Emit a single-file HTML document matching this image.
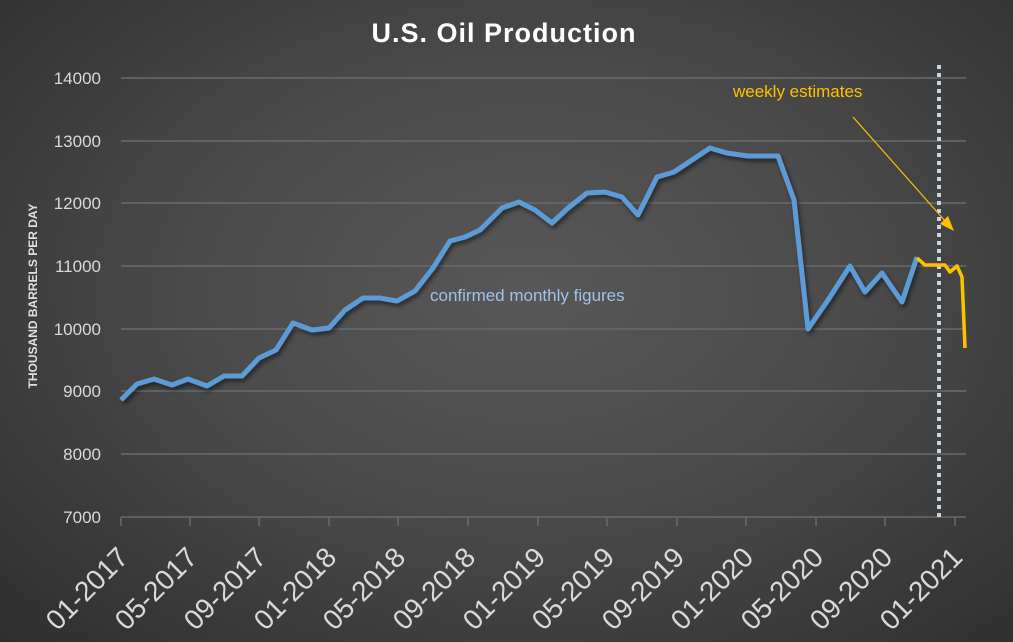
<!DOCTYPE html>
<html><head><meta charset="utf-8"><style>
html,body{margin:0;padding:0;}
body{width:1013px;height:642px;overflow:hidden;background:radial-gradient(ellipse at 52% 45%,#585858 0%,#4a4a4a 45%,#2e2e2e 100%);}
svg{position:absolute;left:0;top:0;font-family:"Liberation Sans",sans-serif;}
</style></head><body>
<svg width="1013" height="642" viewBox="0 0 1013 642">
<defs>
<filter id="sh" x="-5%" y="-5%" width="110%" height="110%"><feDropShadow dx="2" dy="3" stdDeviation="2" flood-color="#000" flood-opacity="0.5"/></filter>
</defs>
<text x="504" y="42" text-anchor="middle" fill="#fff" font-size="27" font-weight="bold" letter-spacing="1">U.S. Oil Production</text>
<g stroke="#6a6a6a" stroke-width="1.5">
<line x1="121" y1="78" x2="966" y2="78"/><line x1="121" y1="141" x2="966" y2="141"/>
<line x1="121" y1="203" x2="966" y2="203"/><line x1="121" y1="266" x2="966" y2="266"/>
<line x1="121" y1="329" x2="966" y2="329"/><line x1="121" y1="391" x2="966" y2="391"/>
<line x1="121" y1="454" x2="966" y2="454"/><line x1="121" y1="517" x2="966" y2="517"/>
<line x1="121" y1="517" x2="121" y2="526"/><line x1="190" y1="517" x2="190" y2="526"/>
<line x1="259" y1="517" x2="259" y2="526"/><line x1="329" y1="517" x2="329" y2="526"/>
<line x1="398" y1="517" x2="398" y2="526"/><line x1="468" y1="517" x2="468" y2="526"/>
<line x1="538" y1="517" x2="538" y2="526"/><line x1="607" y1="517" x2="607" y2="526"/>
<line x1="677" y1="517" x2="677" y2="526"/><line x1="746" y1="517" x2="746" y2="526"/>
<line x1="816" y1="517" x2="816" y2="526"/><line x1="885" y1="517" x2="885" y2="526"/>
<line x1="955" y1="517" x2="955" y2="526"/>
</g>
<g fill="#d9d9d9" font-size="17" text-anchor="end">
<text x="101" y="84">14000</text><text x="101" y="147">13000</text><text x="101" y="209">12000</text>
<text x="101" y="272">11000</text><text x="101" y="335">10000</text><text x="101" y="397">9000</text>
<text x="101" y="460">8000</text><text x="101" y="523">7000</text>
</g>
<text transform="translate(37,296) rotate(-90)" text-anchor="middle" fill="#e0e0e0" font-size="12" font-weight="bold">THOUSAND BARRELS PER DAY</text>
<g fill="#d9d9d9" font-size="28" text-anchor="end">
<text transform="translate(130,559) rotate(-45)">01-2017</text>
<text transform="translate(199,559) rotate(-45)">05-2017</text>
<text transform="translate(268,559) rotate(-45)">09-2017</text>
<text transform="translate(338,559) rotate(-45)">01-2018</text>
<text transform="translate(407,559) rotate(-45)">05-2018</text>
<text transform="translate(477,559) rotate(-45)">09-2018</text>
<text transform="translate(547,559) rotate(-45)">01-2019</text>
<text transform="translate(616,559) rotate(-45)">05-2019</text>
<text transform="translate(686,559) rotate(-45)">09-2019</text>
<text transform="translate(755,559) rotate(-45)">01-2020</text>
<text transform="translate(825,559) rotate(-45)">05-2020</text>
<text transform="translate(894,559) rotate(-45)">09-2020</text>
<text transform="translate(964,559) rotate(-45)">01-2021</text>
</g>
<line x1="939" y1="65" x2="939" y2="520" stroke="#c5d3e3" stroke-width="4" stroke-dasharray="4,4"/>
<polyline filter="url(#sh)" fill="none" stroke="#5b9bd5" stroke-width="5" stroke-linejoin="round" points="121,400 137,384 154,379 172,385 188,379 207,386 224,376 242,376 259,358 276,350 293,323 312,330 329,328 345,310 363,298 380,298 397,301 415,291 433,268 450,241 465,237 480,230 502,208 519,202 535,210 552,223 568,208 587,193 605,192 622,197 638,215 657,177 674,172 692,160 710,148 727,153 748,156 763,156 778,156 794,200 808,329 828,300 850,266 865,292 882,273 902,302 917,257"/>
<polyline fill="none" stroke="#ffc000" stroke-width="3.5" stroke-linejoin="round" points="917,258 925,265 945,265 950,272 957,266 962,277 965,348"/>
<line x1="853" y1="117" x2="946" y2="222" stroke="#ffc000" stroke-width="1.2"/>
<polygon points="954,231 940,224 948,216" fill="#ffc000"/>
<text x="733" y="97" fill="#ffc000" font-size="17">weekly estimates</text>
<text x="430" y="301" fill="#9dc3e6" font-size="17">confirmed monthly figures</text>
</svg>
</body></html>
